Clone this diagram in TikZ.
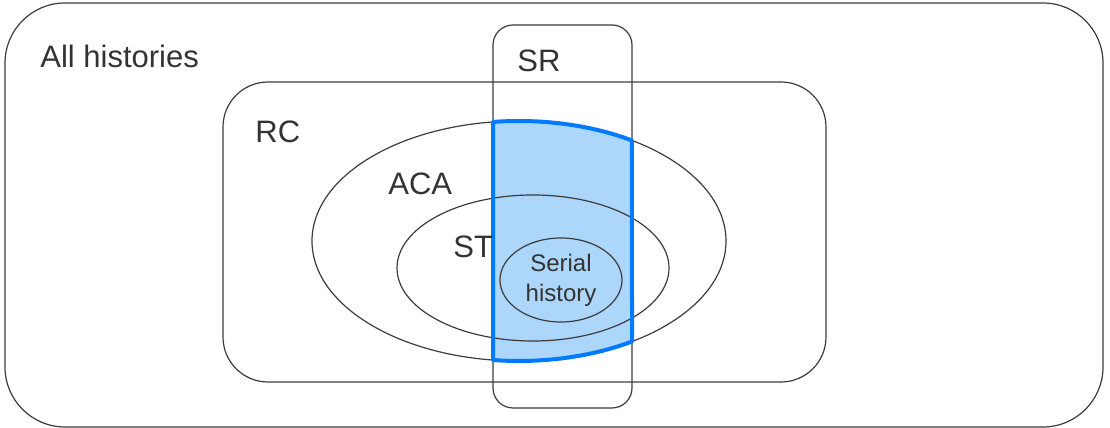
\documentclass[tikz,border=0pt]{standalone}
\usepackage{fontspec}
\setmainfont{Liberation Sans}
\usetikzlibrary{shapes.geometric}
\definecolor{setline}{RGB}{60,60,60}
\definecolor{srblue}{RGB}{0,122,255}
\definecolor{srfill}{RGB}{172,214,250}

\begin{document}
\begin{tikzpicture}[x=0.5pt, y=0.5pt,
	box/.style={draw=setline, line width=0.6pt, rectangle, inner sep=0pt},
	oval/.style={draw=setline, line width=0.6pt, ellipse, inner sep=0pt},
	lbl/.style={font=\fontsize{15.5}{18}\selectfont, text=black!80, inner sep=0pt, anchor=base west}]

				\newcommand{\srPart}{(493,306.05) arc[start angle=97.2, end angle=56.9, x radius=207, y radius=120] -- (632,86.5) arc[start angle=-56.9, end angle=-97.2, x radius=207, y radius=120] -- cycle}

				\useasboundingbox (0,0) rectangle (1110,428);

				% shaded part of SR
				\fill[srfill] \srPart;

				% sets
				\node[box, rounded corners=30pt, minimum width=549pt, minimum height=212pt] (all) at (554,213) {};
				\node[box, rounded corners=22.5pt, minimum width=301.5pt, minimum height=150pt] (rc) at (524.5,196) {};
				\node[box, rounded corners=10pt, minimum width=69.5pt, minimum height=191.5pt] (sr) at (562.5,211.5) {};
				\node[oval, minimum width=207pt, minimum height=120pt] (aca) at (519,187) {};
				\node[oval, minimum width=136pt, minimum height=73pt] (st) at (533,160) {};
				\node[oval, minimum width=61pt, minimum height=42pt, align=center, text=black!80, font=\fontsize{12}{15}\selectfont] (serial) at (561,148) {Serial\\history};

				% outline of SR part
				\draw[srblue, line width=2pt, line join=round] \srPart;

				% labels
				\node[lbl] (allLbl) at (40,360) {All histories};
				\node[lbl] (srLbl) at (517,356) {SR};
				\node[lbl] (rcLbl) at (255,285) {RC};
				\node[lbl] (acaLbl) at (388,233) {ACA};
				\node[lbl] (stLbl) at (453,170) {ST};
			\end{tikzpicture}
\end{document}
